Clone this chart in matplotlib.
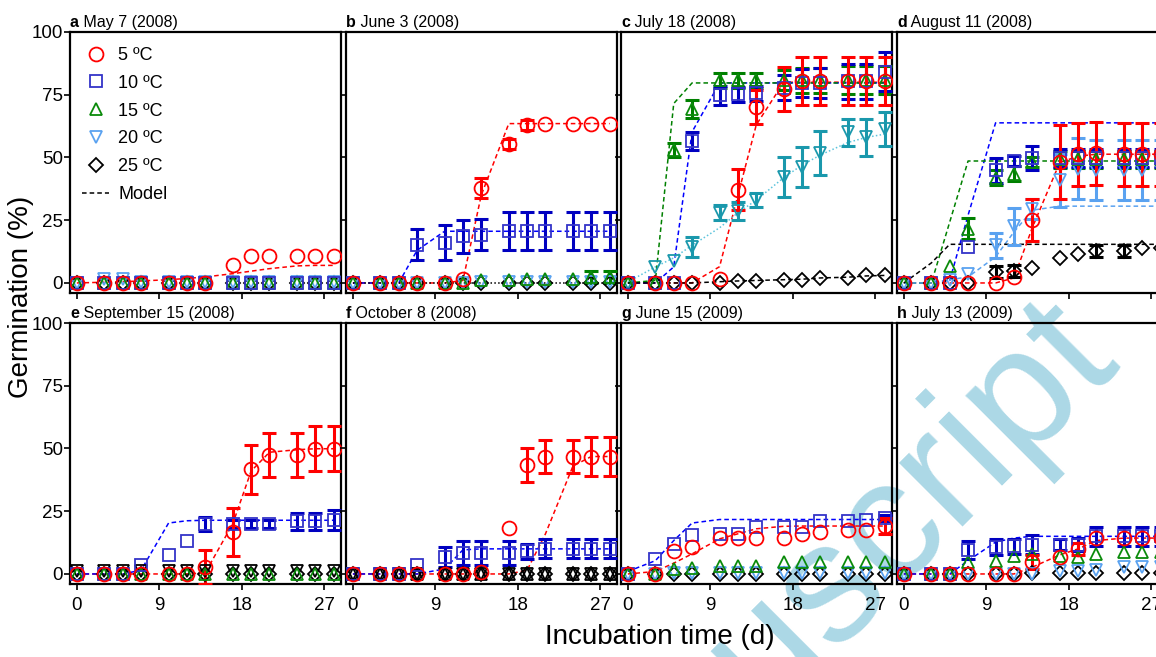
import numpy as np
import matplotlib
matplotlib.use('Agg')
import matplotlib.pyplot as plt
from matplotlib.lines import Line2D

plt.rcParams['font.family'] = ['Liberation Sans', 'DejaVu Sans']

# sampling days (incubation time, d)
days = [0, 3, 5, 7, 10, 12, 14, 17, 19, 21, 24, 26, 28]
temps = [5, 10, 15, 20, 25]
letters = ['a', 'b', 'c', 'd', 'e', 'f', 'g', 'h']
titles = ['May 7 (2008)', 'June 3 (2008)', 'July 18 (2008)', 'August 11 (2008)',
          'September 15 (2008)', 'October 8 (2008)', 'June 15 (2009)', 'July 13 (2009)']
z13 = [0] * 13

# ---- a May 7 (2008)
mean_a = {5: [0, 0, 0, 0, 0, 0, 0, 7.3, 10.6, 10.6, 10.6, 10.6, 10.6],
          10: z13, 15: z13, 20: [0, 1.5, 1.5, 0.5, 0.5, 0.5, 0.5, 0.5, 0.5, 0.5, 0.5, 0.5, 0.5], 25: z13}
err_a = {}
model_a = {5: [0, 0.3, 0.5, 0.8, 1.3, 1.8, 2.4, 3.7, 4.7, 5.7, 6.8, 7.0, 7.0]}

# ---- b June 3 (2008)
mean_b = {5: [0, 0, 0, 0, 0, 1.6, 37.9, 55.2, 62.9, 63.5, 63.5, 63.5, 63.5],
          10: [0, 0, 0, 15.3, 16, 18.6, 19.3, 20.6, 20.6, 20.6, 20.6, 20.6, 20.6],
          15: [0, 0, 0, 0, 0, 0, 1, 1.3, 1.7, 1.7, 1.7, 2.4, 2.4],
          20: [0, 0, 0, 0, 0, 0, 0.5, 0.5, 0.5, 0.5, 0.5, 0.5, 0.5],
          25: z13}
err_b = {5: [0, 0, 0, 0, 0, 0, 4, 2, 2, 0, 0, 0, 0],
         10: [0, 0, 0, 6.3, 7, 6.6, 6, 7.5, 7.5, 7.5, 7.5, 7.5, 7.5],
         15: [0, 0, 0, 0, 0, 0, 0, 0, 0, 0, 0, 2.5, 2.5]}
model_b = {5: [0, 0, 0, 0, 0, 1, 35, 63.5, 63.5, 63.5, 63.5, 63.5, 63.5],
           10: [0, 0, 0, 13, 20.6, 20.6, 20.6, 20.6, 20.6, 20.6, 20.6, 20.6, 20.6],
           25: z13}

# ---- c July 18 (2008)
mean_c = {5: [0, 0, 0, 0, 1.7, 37.2, 70.2, 77.2, 80.4, 80.4, 80.4, 80.4, 80.4],
          10: [0, 0, 0, 56.6, 74.8, 75.1, 75.5, 77.8, 79.7, 79.7, 80.4, 80.4, 84.1],
          15: [0, 0, 52.9, 69.5, 80.8, 80.8, 80.8, 80.8, 80.8, 80.8, 80.8, 80.8, 80.8],
          20: [0, 6.4, 8.8, 14.4, 28, 28.6, 33.2, 42.3, 46.3, 51.8, 60, 58, 61.3],
          25: [0, 0, 0, 0, 0, 0.8, 0.8, 1.1, 1.1, 2, 2, 3, 3]}
err_c = {5: [0, 0, 0, 0, 0, 8.2, 6.8, 8.7, 9.6, 9.6, 9.6, 9.6, 9.6],
         10: [0, 0, 0, 3.5, 3.7, 3, 3, 5, 5.5, 6, 7, 7, 7.8],
         15: [0, 0, 2.9, 3.6, 3, 3, 3, 4, 5, 5, 5.5, 5.5, 5.5],
         20: [0, 0, 0, 4, 3, 3.5, 2.8, 8, 8, 8.6, 5.5, 7.5, 6.8]}
model_c = {5: [0, 0, 0, 0, 6.5, 35, 63, 80, 80, 80, 80, 80, 80],
           10: [0, 0, 6.4, 60.2, 79.7, 79.7, 79.7, 79.7, 79.7, 79.7, 79.7, 79.7, 79.7],
           15: [0, 1, 71.5, 79.7, 79.7, 79.7, 79.7, 79.7, 79.7, 79.7, 79.7, 79.7, 79.7],
           20: [0.4, 6.4, 10, 15, 22, 28, 33, 42, 47, 51, 56, 58, 59.3],
           25: [0, 0, 0, 0, 0.5, 0.8, 1, 1.3, 1.5, 2, 2.3, 2.8, 3]}

# ---- d August 11 (2008)
mean_d = {5: [0, 0, 0, 0, 0, 2.4, 25, 48.2, 51.3, 51.6, 51.3, 51.3, 51.3],
          10: [0, 0, 0, 14.4, 44.9, 48.5, 49.8, 49.8, 49.8, 49.8, 49.8, 49.8, 49.8],
          15: [0, 0, 6.6, 21.7, 42, 43.6, 48.2, 49.2, 49.2, 49.2, 49.2, 49.2, 49.2],
          20: [0, 0, 1, 3.7, 15, 22.6, 29.4, 40.9, 45.6, 45, 45, 45, 45],
          25: [0, 0, 0, 0, 4.4, 4.8, 6, 10, 11.4, 12.8, 12.8, 14.1, 14.1]}
err_d = {5: [0, 0, 0, 0, 0, 0, 8.4, 14.7, 12.6, 12.6, 12.6, 12.6, 12.6],
         10: [0, 0, 0, 0, 5, 2, 4.6, 3.5, 3.5, 3.5, 3.5, 3.5, 3.5],
         15: [0, 0, 0, 4, 3, 3, 2, 3.5, 3.5, 3.5, 3.5, 3.5, 3.5],
         20: [0, 0, 0, 0, 5, 7.4, 4, 10.6, 12, 12, 12, 12, 12],
         25: [0, 0, 0, 0, 2.5, 2.5, 0, 0, 0, 2.5, 2.5, 0, 0]}
model_d = {5: [0, 0, 0, 0, 0, 2, 22, 48, 50.5, 51.3, 51.3, 51.3, 51.3],
           10: [0, 0, 1, 27, 63.8, 63.8, 63.8, 63.8, 63.8, 63.8, 63.8, 63.8, 63.8],
           15: [0, 0, 24.3, 48.6, 48.6, 48.6, 48.6, 48.6, 48.6, 48.6, 48.6, 48.6, 48.6],
           20: [0, 0, 1.3, 2.4, 10.4, 20.3, 29, 30.6, 30.6, 30.6, 30.6, 30.6, 30.6],
           25: [0, 8, 15.4, 15.4, 15.4, 15.4, 15.4, 15.4, 15.4, 15.4, 15.4, 15.4, 15.4]}

# ---- e September 15 (2008)
mean_e = {5: [0, 0, 0, 0, 0, 0, 2.7, 16.7, 41.7, 47.5, 47.5, 49.9, 49.9],
          10: [0, 0, 0, 3.6, 7.4, 13.1, 20, 20, 20, 20, 21, 21, 21.4],
          15: z13,
          20: [1.2] * 13,
          25: z13}
err_e = {5: [0, 0, 0, 0, 0, 0, 6.7, 9.6, 9.7, 8.7, 8.7, 8.9, 8.9],
         10: [0, 0, 0, 0, 0, 0, 2.7, 1.5, 1.5, 1.5, 3.3, 3.3, 4]}
model_e = {5: [0, 0, 0, 0, 0, 0, 0.5, 20, 41, 48.5, 49.5, 49.9, 49.9],
           10: [0, 0, 0, 1.5, 20.3, 21.2, 21.4, 21.4, 21.4, 21.4, 21.4, 21.4, 21.4]}

# ---- f October 8 (2008)
mean_f = {5: [0, 0, 0, 0, 0, 0, 0.7, 18.3, 43.4, 46.8, 46.8, 46.8, 46.8],
          10: [0, 0, 0, 3.6, 6.7, 8.4, 8.4, 8.4, 9.1, 10, 10, 10, 10],
          15: z13, 20: z13, 25: z13}
err_f = {5: [0, 0, 0, 0, 0, 0, 0, 0, 6.8, 6.7, 6.7, 7.7, 7.7],
         10: [0, 0, 0, 0, 4, 4.9, 4.9, 4.9, 3, 3.8, 3.8, 3.8, 3.8]}
model_f = {5: [0, 0, 0, 0, 0, 0, 0, 0, 1.5, 16, 43, 46.8, 46.8],
           10: [0, 0, 0, 0, 2, 9.6, 10, 10, 10, 10, 10, 10, 10]}

# ---- g June 15 (2009)
mean_g = {5: [0, 0, 9.1, 10.7, 14.3, 14.3, 14.3, 14.3, 16, 16.7, 17.6, 17.6, 19.1],
          10: [0, 6, 12, 15.6, 16, 16, 18.7, 18.7, 18.7, 21, 21, 21.7, 22.4],
          15: [0, 0, 2, 2.4, 3.3, 3.3, 3.3, 4.9, 4.9, 4.9, 4.9, 4.9, 4.9],
          20: [0, 0, 0.5, 0.5, 0.5, 0.5, 0.5, 0.5, 0.5, 0.5, 0.5, 0.5, 0.5],
          25: z13}
err_g = {5: [0, 0, 0, 0, 0, 0, 0, 0, 0, 0, 0, 0, 3],
         10: [0, 0, 0, 0, 0, 0, 0, 0, 0, 0, 0, 0, 1.2]}
model_g = {5: [0, 1, 4.3, 8, 14, 16, 18, 19, 19.1, 19.1, 19.1, 19.1, 19.1],
           10: [1, 5.3, 13.3, 20.3, 21.7, 21.7, 21.7, 21.7, 21.7, 21.7, 21.7, 21.7, 21.7]}

# ---- h July 13 (2009)
mean_h = {5: [0, 0, 0, 0, 0, 0, 4.9, 6.7, 10, 14.3, 14.3, 14.3, 14.3],
          10: [0, 0, 0, 9.6, 10.7, 11, 11.7, 11.7, 11.7, 15, 15, 15, 15],
          15: [0, 0, 0, 4.7, 5.3, 7.3, 8, 7, 6.7, 8, 8.7, 8.7, 8.7],
          20: [0, 0, 0, 0, 0, 0, 0, 1.3, 1.3, 1.6, 2.7, 2.7, 2.7],
          25: [0, 0, 0, 0, 0, 0, 0.3, 0.3, 0.3, 0.3, 0.3, 0.3, 0.3]}
err_h = {5: [0, 0, 0, 0, 0, 0, 2.8, 0, 2.4, 0, 0, 0, 0],
         10: [0, 0, 0, 3.5, 3.1, 3.1, 3.8, 2.3, 2.5, 3.7, 3.7, 3.7, 3.7]}
model_h = {5: [0, 0, 0, 0, 0, 0, 2.7, 7.6, 10, 13.3, 14.3, 14.3, 14.3],
           10: [0, 0, 0, 5.3, 12.7, 14.3, 15, 15, 15, 15, 15, 15, 15]}

means = [mean_a, mean_b, mean_c, mean_d, mean_e, mean_f, mean_g, mean_h]
errs = [err_a, err_b, err_c, err_d, err_e, err_f, err_g, err_h]
models = [model_a, model_b, model_c, model_d, model_e, model_f, model_g, model_h]

# styles
markers = {5: 'o', 10: 's', 15: '^', 20: 'v', 25: 'D'}
msizes = {5: 10, 10: 9, 15: 9, 20: 9, 25: 7}
mcolors = {5: '#ff0000', 10: '#3434c8', 15: '#0a8a0a', 20: '#5aa2f0', 25: '#000000'}
ecolors = {5: '#ff0000', 10: '#0000c0', 15: '#008000', 20: '#5aa2f0', 25: '#000000'}
lcolors = {5: '#ff0000', 10: '#0000ff', 15: '#008000', 20: '#5aa2f0', 25: '#000000'}
color_fix = {'c': {20: '#1a98ac'}, 'e': {20: '#000000'}, 'f': {15: '#000000', 20: '#000000'}}
line_fix = {'c': {20: ('#5cc4dc', ':')}, 'b': {25: ('#000000', ':')}}

fig = plt.figure(figsize=(11.56, 6.57), dpi=100)

W, H = 1156, 657
col_left = [70, 346, 621, 897]
row_top = [32, 323]
ax_w, ax_h = 271, 261

# watermark behind everything
fig.text(1123 / W, 1 - 367 / H, 'Author Manuscript', fontsize=123,
         color='#acd8e6', rotation=45, ha='right', va='baseline',
         rotation_mode='anchor', zorder=-5)

axes = []
for i in range(8):
    r, c = divmod(i, 4)
    ax = fig.add_axes([col_left[c] / W, 1 - (row_top[r] + ax_h) / H, ax_w / W, ax_h / H])
    ax.set_facecolor('none')
    axes.append(ax)
    L = letters[i]
    x = np.array(days, dtype=float)

    # model curves
    for t in temps:
        if t in models[i]:
            col, ls = lcolors[t], (0, (3, 2))
            if L in line_fix and t in line_fix[L]:
                col, ls = line_fix[L][t]
                if ls == ':':
                    ls = (0, (1, 1.5))
            ax.plot(x, models[i][t], color=col, lw=1.1, ls=ls, zorder=2)

    # data, drawn 25 -> 5 so 5 ºC is on top
    for t in temps[::-1]:
        y = np.array(means[i][t], dtype=float)
        mc = mcolors[t]
        ec = ecolors[t]
        if L in color_fix and t in color_fix[L]:
            mc = ec = color_fix[L][t]
        if t in errs[i]:
            e = np.array(errs[i][t], dtype=float)
            m = e > 0
            ax.errorbar(x[m], y[m], yerr=e[m], fmt='none', ecolor=ec,
                        elinewidth=2.2, capsize=5, capthick=2.2, zorder=3)
        ax.plot(x, y, ls='none', marker=markers[t], ms=msizes[t], mfc='none',
                mec=mc, mew=1.3, zorder=4)

    ax.set_xlim(-0.75, 28.8)
    ax.set_ylim(-4, 100)
    ax.set_xticks([0, 9, 18, 27])
    ax.set_yticks([0, 25, 50, 75, 100])
    ax.tick_params(direction='out', length=4, width=1.2, labelsize=13.5, pad=1)
    ax.tick_params(axis='x', pad=5)
    if r == 0:
        ax.set_xticklabels([])
    if c != 0:
        ax.set_yticklabels([])
    for s in ax.spines.values():
        s.set_linewidth(1.6)

    t1 = ax.text(0, 1.006, L, transform=ax.transAxes, fontsize=11.5,
                 fontweight='bold', ha='left', va='bottom')
    ax.annotate(' ' + titles[i], xy=(1, 0), xycoords=t1, fontsize=11.5,
                ha='left', va='bottom')

# legend in panel a
handles = []
for t in temps:
    handles.append(Line2D([], [], ls='none', marker=markers[t], ms=msizes[t],
                          mfc='none', mec=mcolors[t], mew=1.3))
handles.append(Line2D([], [], color='k', lw=1.1, ls=(0, (3, 2))))
labels = ['5 ºC', '10 ºC', '15 ºC', '20 ºC', '25 ºC', 'Model']
axes[0].legend(handles, labels, loc='upper left', bbox_to_anchor=(0.045, 0.943),
               frameon=False, fontsize=13, handlelength=1.5, handletextpad=0.5,
               labelspacing=0.6, borderpad=0, borderaxespad=0)

fig.text(660 / W, 1 - 637 / H, 'Incubation time (d)', fontsize=20, ha='center', va='center')
fig.text(21 / W, 1 - 297 / H, 'Germination (%)', fontsize=20, rotation=90,
         ha='center', va='center')

fig.savefig('out.png', dpi=100)
